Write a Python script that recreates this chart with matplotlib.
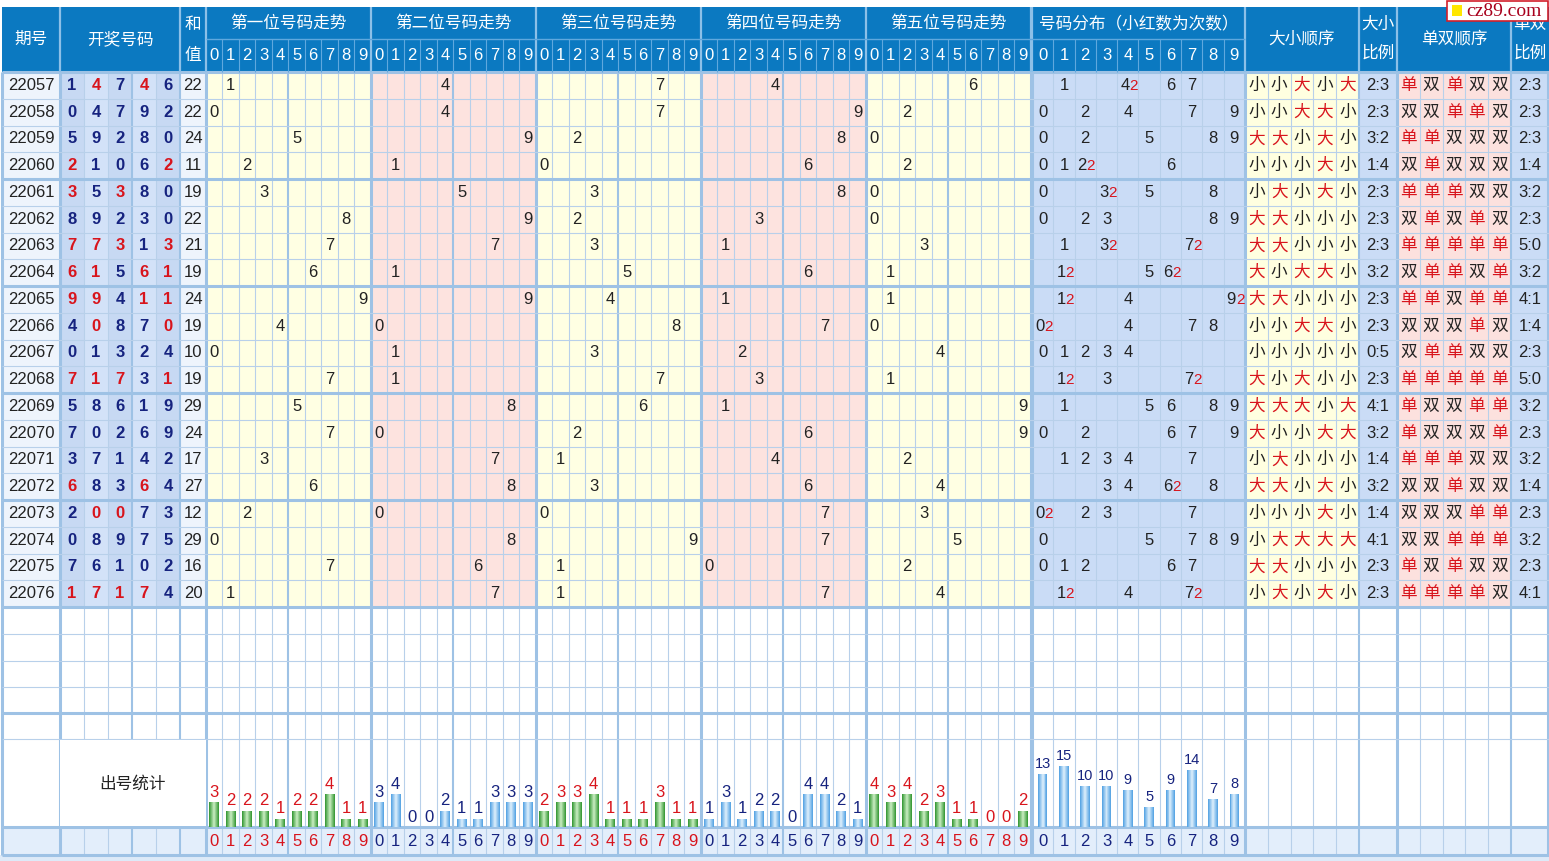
import matplotlib
matplotlib.use('Agg')
import matplotlib.pyplot as plt
from matplotlib.patches import Rectangle
import numpy as np

plt.rcParams['font.family'] = ['Liberation Sans', 'Noto Sans CJK SC', 'DejaVu Sans']

# ---- data ----
issues = ['22057', '22058', '22059', '22060', '22061', '22062', '22063', '22064',
          '22065', '22066', '22067', '22068', '22069', '22070', '22071', '22072',
          '22073', '22074', '22075', '22076']
draws = [[1, 4, 7, 4, 6], [0, 4, 7, 9, 2], [5, 9, 2, 8, 0], [2, 1, 0, 6, 2],
         [3, 5, 3, 8, 0], [8, 9, 2, 3, 0], [7, 7, 3, 1, 3], [6, 1, 5, 6, 1],
         [9, 9, 4, 1, 1], [4, 0, 8, 7, 0], [0, 1, 3, 2, 4], [7, 1, 7, 3, 1],
         [5, 8, 6, 1, 9], [7, 0, 2, 6, 9], [3, 7, 1, 4, 2], [6, 8, 3, 6, 4],
         [2, 0, 0, 7, 3], [0, 8, 9, 7, 5], [7, 6, 1, 0, 2], [1, 7, 1, 7, 4]]
section_titles = ['第一位号码走势', '第二位号码走势', '第三位号码走势',
                  '第四位号码走势', '第五位号码走势']
dist_title = '号码分布（小红数为次数）'
stat_label = '出号统计'

# ---- colours ----
HEAD = '#0B79C1'
NAVY = '#16237F'
RED = '#D8141C'
INK = '#222222'
YEL = '#FFFFE3'
PINK = '#FDE3DF'
LBLUE = '#CADCF6'
PALE = '#EEF4FC'
THIN = '#B8D0EA'
THICK = '#9EC2E5'

W, H = 1549, 861
fig = plt.figure(figsize=(W / 100, H / 100), dpi=100)
ax = fig.add_axes([0, 0, 1, 1])
ax.set_xlim(0, W)
ax.set_ylim(H, 0)
ax.axis('off')


def box(x0, y0, x1, y1, color, z=0, ec='none', lw=0):
    ax.add_patch(Rectangle((x0, y0), x1 - x0, y1 - y0, facecolor=color,
                           edgecolor=ec, linewidth=lw, zorder=z))


def txt(x, y, s, size=12, color=INK, weight='normal', ha='center', **kw):
    ax.text(x, y, s, fontsize=size, color=color, fontweight=weight,
            ha=ha, va='center', zorder=5, **kw)


# ---- layout (pixels) ----
LEFT = 2
QH = (LEFT, 60)
DRAW_X = [60, 84, 108, 132, 156, 180]
SUM = (180, 206)
SEC0, SEC_W = 206, 165
CELL = SEC_W / 10
DIST0, DIST1 = 1032, 1245
DCELL = (DIST1 - DIST0) / 10
DX0, DX1 = 1245, 1359
DXR = (1359, 1397)
DS0, DS1 = 1397, 1511
DSR = (1511, 1549)
OCELL = (DX1 - DX0) / 5

HT, HM, HB = 7, 39, 72
RH = 26.75
n = len(draws)
DATA_END = HB + n * RH
EMPTY = [DATA_END, 634, 661, 687, 713, 739]
ST_T, ST_B, LAB_B = 739, 827, 855

sec_x = [SEC0 + k * SEC_W for k in range(6)]

# ---- backgrounds ----
box(LEFT, HT, W, HB, HEAD)
box(QH[0], HB, QH[1], DATA_END, PALE)
for j in range(5):
    box(DRAW_X[j], HB, DRAW_X[j + 1], DATA_END, '#C7D9F3' if j % 2 == 0 else '#D3E2F8')
box(SUM[0], HB, SUM[1], DATA_END, PALE)
for k in range(5):
    box(sec_x[k], HB, sec_x[k + 1], DATA_END, YEL if k % 2 == 0 else PINK)
box(DIST0, HB, DIST1, DATA_END, LBLUE)
box(DX0, HB, DX1, DATA_END, '#FFFFE0')
box(DXR[0], HB, DXR[1], DATA_END, LBLUE)
box(DS0, HB, DS1, DATA_END, '#FCE1DE')
box(DSR[0], HB, DSR[1], DATA_END, LBLUE)
box(LEFT, ST_B, W, LAB_B, '#E3EEFB')
box(0, LAB_B, W, H, '#DDEAF8')

# ---- grid lines in the body ----
thin_x, mid_x, thick_x = [84, 108, 156], [132, 180, 1359, 1511], [LEFT, 60, 206, 1032, 1245, 1397, W - 1]
for k in range(5):
    thick_x.append(sec_x[k + 1])
    for d in range(1, 10):
        (mid_x if d == 5 else thin_x).append(sec_x[k] + d * CELL)
for d in range(1, 10):
    thin_x.append(DIST0 + d * DCELL)
for d in range(1, 5):
    thin_x.append(DX0 + d * OCELL)
    thin_x.append(DS0 + d * OCELL)

merged = set([84, 108, 132, 156, 180])
for xs, lw, c in [(thin_x, 0.8, THIN), (mid_x, 1.5, THICK), (thick_x, 2.2, THICK)]:
    for x in xs:
        if x in merged:
            ax.vlines(x, HB, ST_T, colors=c, linewidth=lw, zorder=1)
            ax.vlines(x, ST_B, LAB_B, colors=c, linewidth=lw, zorder=1)
        else:
            ax.vlines(x, HB, LAB_B, colors=c, linewidth=lw, zorder=1)

row_y = [HB + i * RH for i in range(n + 1)] + EMPTY[1:] + [ST_B, LAB_B]
thick_y = [HB + i * RH for i in (0, 4, 8, 12, 16, 20)] + [713, ST_B, LAB_B]
for y in row_y:
    ax.hlines(y, LEFT, W, colors=THIN, linewidth=0.8, zorder=1)
for y in thick_y:
    ax.hlines(y, LEFT, W, colors=THICK, linewidth=2.2, zorder=1)

# ---- header ----
HL = '#5FA8DE'
for x in [60, 180, 206] + sec_x[1:] + [1032, 1245, 1359, 1397, 1511]:
    ax.vlines(x, HT, HB, colors='#8CC0E8', linewidth=1.6, zorder=1)
ax.hlines(HM, SEC0, DIST1, colors=HL, linewidth=1.0, zorder=1)
for k in range(5):
    for d in range(1, 10):
        ax.vlines(sec_x[k] + d * CELL, HM, HB, colors=HL, linewidth=0.8, zorder=1)
for d in range(1, 10):
    ax.vlines(DIST0 + d * DCELL, HM, HB, colors=HL, linewidth=0.8, zorder=1)

hs = 12
txt(31, 39, '期号', hs, 'white')
txt(120, 39, '开奖号码', hs, 'white')
txt(193, 24, '和', hs, 'white')
txt(193, 55, '值', hs, 'white')
for k in range(5):
    txt(sec_x[k] + SEC_W / 2, 23, section_titles[k], hs, 'white')
    for d in range(10):
        txt(sec_x[k] + (d + 0.5) * CELL, 56, str(d), hs, 'white')
txt((DIST0 + DIST1) / 2, 23, dist_title, hs, 'white')
for d in range(10):
    txt(DIST0 + (d + 0.5) * DCELL, 56, str(d), hs, 'white')
txt((DX0 + DX1) / 2, 39, '大小顺序', hs, 'white')
txt(sum(DXR) / 2, 24, '大小', hs, 'white')
txt(sum(DXR) / 2, 53, '比例', hs, 'white')
txt((DS0 + DS1) / 2, 39, '单双顺序', hs, 'white')
txt(sum(DSR) / 2, 24, '单双', hs, 'white')
txt(sum(DSR) / 2, 53, '比例', hs, 'white')

# ---- data rows ----
for i, (iss, dr) in enumerate(zip(issues, draws)):
    yc = HB + (i + 0.5) * RH
    txt(31, yc, iss)
    for j, v in enumerate(dr):
        col = RED if dr.count(v) > 1 else NAVY
        txt((DRAW_X[j] + DRAW_X[j + 1]) / 2, yc, str(v), 12, col, 'bold')
    txt(193, yc, str(sum(dr)))
    for k, v in enumerate(dr):
        txt(sec_x[k] + (v + 0.5) * CELL, yc, str(v))
    for d in range(10):
        c = dr.count(d)
        if c == 0:
            continue
        cx = DIST0 + (d + 0.5) * DCELL
        if c == 1:
            txt(cx, yc, str(d))
        else:
            txt(cx - 3, yc, str(d))
            txt(cx + 1.5, yc + 0.5, str(c), 11, RED, ha='left')
    big = sum(1 for v in dr if v >= 5)
    odd = sum(1 for v in dr if v % 2 == 1)
    for j, v in enumerate(dr):
        x = DX0 + (j + 0.5) * OCELL
        txt(x, yc, '大' if v >= 5 else '小', 12, RED if v >= 5 else INK)
        x = DS0 + (j + 0.5) * OCELL
        txt(x, yc, '单' if v % 2 else '双', 12, RED if v % 2 else INK)
    txt(sum(DXR) / 2, yc, f'{big}:{5 - big}')
    txt(sum(DSR) / 2, yc, f'{odd}:{5 - odd}')

# ---- statistics row ----
box(60, ST_T + 1, 206, ST_B - 1, 'white', z=1.5)
txt(133, 784, stat_label, 12, INK)


def grad_bar(xc, w, h, dark, light):
    cmap = matplotlib.colors.LinearSegmentedColormap.from_list('g', [dark, light, dark])
    m = 10
    for s in range(m):
        x0 = xc - w / 2 + s * w / m
        box(x0, ST_B - h, x0 + w / m + 0.05, ST_B, cmap((s + 0.5) / m), z=2)


green = ('#2E942E', '#C9EDC2')
blue = ('#4F9FE2', '#DDEFFC')
for k in range(5):
    counts = [sum(1 for dr in draws if dr[k] == d) for d in range(10)]
    is_green = k % 2 == 0
    tc = RED if is_green else NAVY
    for d, c in enumerate(counts):
        xc = sec_x[k] + (d + 0.5) * CELL
        h = c * 8.2
        if c > 0:
            grad_bar(xc, 10, h, *(green if is_green else blue))
        txt(xc, ST_B - h - 10, str(c), 12, tc)
        txt(xc, 841, str(d), 12, tc)

dist_counts = [sum(dr.count(d) for dr in draws) for d in range(10)]
for d, c in enumerate(dist_counts):
    xc = DIST0 + (d + 0.5) * DCELL
    h = c * 4.07
    grad_bar(xc, 9.5, h, *blue)
    txt(xc, ST_B - h - 10, str(c), 10.5, NAVY)
    txt(xc, 841, str(d), 12, NAVY)

# ---- watermark ----
box(1447, 1, 1548, 21, 'white', z=6, ec='#D21F2B', lw=1.2)
box(1452, 5, 1462, 16, '#FFE600', z=7)
ax.text(1466, 11, 'cz89.com', fontsize=14, family='Liberation Serif',
        color='#A8001C', ha='left', va='center', zorder=8)

fig.savefig('out.png', dpi=100)
